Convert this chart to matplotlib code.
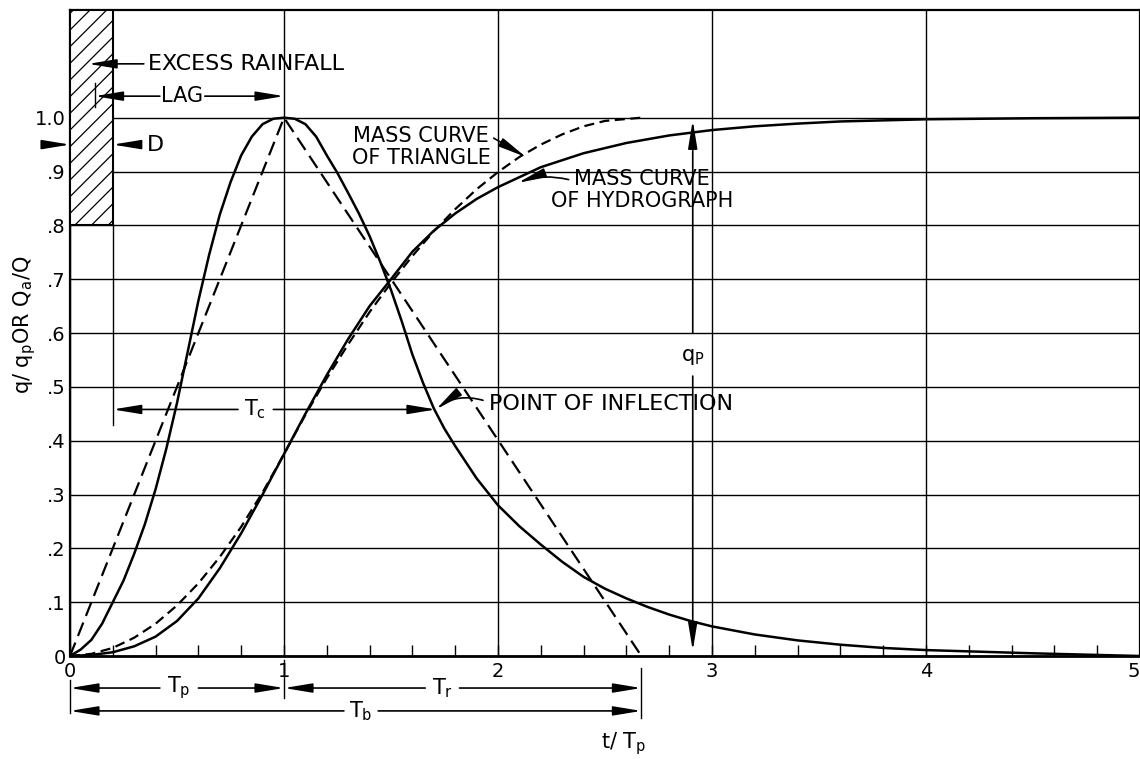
import numpy as np
import matplotlib.pyplot as plt
from matplotlib.patches import Rectangle
from matplotlib.ticker import MultipleLocator

plt.rcParams['font.family'] = 'DejaVu Sans'
plt.rcParams['mathtext.default'] = 'regular'
plt.rcParams['hatch.linewidth'] = 0.9

# dimensionless unit hydrograph
t_hyd = [0, .05, .1, .15, .2, .25, .3, .35, .4, .45, .5, .55, .6, .65, .7, .75, .8, .85, .9,
         .95, 1.0, 1.05, 1.1, 1.15, 1.2, 1.25, 1.3, 1.35, 1.4, 1.45, 1.5, 1.55, 1.6, 1.65,
         1.7, 1.75, 1.8, 1.9, 2.0, 2.1, 2.2, 2.3, 2.4, 2.5, 2.6, 2.7, 2.8, 2.9, 3.0, 3.2,
         3.4, 3.6, 3.8, 4.0, 4.5, 5.0]
q_hyd = [0, .012, .030, .060, .100, .140, .190, .245, .310, .385, .470, .565, .660, .745,
         .820, .880, .930, .965, .988, .998, 1.000, .998, .988, .965, .930, .897, .860, .822,
         .780, .732, .680, .622, .560, .507, .460, .422, .390, .330, .280, .241, .207, .175,
         .147, .125, .107, .091, .077, .065, .055, .040, .029, .021, .015, .011, .005, 0]
t_mass = [0, .1, .2, .3, .4, .5, .6, .7, .8, .9, 1.0, 1.1, 1.2, 1.3, 1.4, 1.5, 1.6, 1.7,
          1.8, 1.9, 2.0, 2.2, 2.4, 2.6, 2.8, 3.0, 3.2, 3.4, 3.6, 3.8, 4.0, 4.5, 5.0]
mass_hyd = [0, .002, .007, .018, .036, .065, .107, .163, .228, .300, .375, .450, .522, .589,
            .650, .700, .751, .790, .822, .849, .871, .908, .934, .953, .967, .977, .984,
            .989, .993, .995, .997, .999, 1.000]

# triangle and its mass curve
t_tri = [0, 1.0, 2.67]
q_tri = [0, 1.0, 0]
t_tri_mass = [0, .1, .2, .3, .4, .5, .6, .7, .8, .9, 1.0, 1.1, 1.2, 1.3, 1.4, 1.5, 1.6,
              1.7, 1.8, 1.9, 2.0, 2.1, 2.2, 2.3, 2.4, 2.5, 2.67]
mass_tri = [0, .004, .015, .034, .060, .094, .135, .184, .240, .304, .375, .448, .516, .579,
            .639, .693, .743, .789, .830, .867, .899, .927, .950, .969, .984, .994, 1.0]

x_ticks = [0, 1, 2, 3, 4, 5]
y_ticks = [0, .1, .2, .3, .4, .5, .6, .7, .8, .9, 1.0]
y_ticklabels = ['0', '.1', '.2', '.3', '.4', '.5', '.6', '.7', '.8', '.9', '1.0']

fig = plt.figure(figsize=(11.4, 7.59), dpi=100)
ax = fig.add_axes([0.0614, 0.1357, 0.9386, 0.8511])

ax.plot(t_hyd, q_hyd, color='k', lw=1.8)
ax.plot(t_mass, mass_hyd, color='k', lw=1.8)
ax.plot(t_tri, q_tri, color='k', lw=1.6, dashes=(6.5, 3.2))
ax.plot(t_tri_mass, mass_tri, color='k', lw=1.6, dashes=(4.5, 2.5))

ax.set_xlim(0, 5)
ax.set_ylim(0, 1.2)
ax.set_xticks(x_ticks)
ax.set_xticklabels([str(v) for v in x_ticks], fontsize=14)
ax.get_xticklabels()[-1].set_horizontalalignment('right')
ax.set_yticks(y_ticks)
ax.set_yticklabels(y_ticklabels, fontsize=14)
ax.xaxis.set_minor_locator(MultipleLocator(0.2))
ax.tick_params(axis='x', which='both', direction='in', length=8, width=1, pad=4)
ax.tick_params(axis='y', length=0, pad=3)
ax.grid(True, color='k', lw=1.0)
for s in ax.spines.values():
    s.set_linewidth(1.6)
ax.spines['bottom'].set_linewidth(2.0)

# excess rainfall block
ax.add_patch(Rectangle((0, 0.8), 0.2, 0.4, facecolor='white', edgecolor='k',
                       hatch='//', lw=1.5, zorder=3))


def arrow(x0, y0, x1, y1, rad=0.0):
    ax.annotate('', xy=(x1, y1), xytext=(x0, y0), annotation_clip=False,
                arrowprops=dict(arrowstyle='-|>,head_length=0.85,head_width=0.14',
                                color='k', lw=1.2, shrinkA=0, shrinkB=0,
                                mutation_scale=20, connectionstyle=f'arc3,rad={rad}'))


fs = 15
ax.text(0.365, 1.10, 'EXCESS RAINFALL', fontsize=16, va='center', zorder=5)
arrow(0.345, 1.10, 0.085, 1.10)

ax.text(0.525, 1.04, 'LAG', fontsize=fs, ha='center', va='center', zorder=5)
arrow(0.42, 1.04, 0.115, 1.04)
arrow(0.63, 1.04, 1.0, 1.04)
ax.plot([0.115, 0.115], [1.02, 1.065], color='k', lw=1.0, zorder=5)

ax.text(0.36, 0.95, 'D', fontsize=fs + 1, va='center')
arrow(-0.13, 0.95, 0.0, 0.95)
arrow(0.30, 0.95, 0.2, 0.95)

ax.plot([0.2, 0.2], [0.8, 0.43], color='k', lw=1.0)
ax.text(0.865, 0.458, 'T$_c$', fontsize=fs, ha='center', va='center')
arrow(0.785, 0.458, 0.2, 0.458)
arrow(0.95, 0.458, 1.71, 0.458)

ax.text(1.96, 0.468, 'POINT OF INFLECTION', fontsize=16, va='center')
arrow(1.93, 0.475, 1.71, 0.458, rad=0.25)

ax.text(1.64, 0.945, 'MASS CURVE\nOF TRIANGLE', fontsize=fs, ha='center', va='center',
        linespacing=1.1)
arrow(1.98, 0.962, 2.13, 0.927)

ax.text(2.674, 0.866, 'MASS CURVE\nOF HYDROGRAPH', fontsize=fs, ha='center', va='center',
        linespacing=1.1)
arrow(2.33, 0.885, 2.093, 0.879, rad=0.15)

# q_p dimension
ax.text(2.91, 0.555, 'q$_P$', fontsize=fs, ha='center', va='center')
arrow(2.91, 0.60, 2.91, 0.995)
arrow(2.91, 0.52, 2.91, 0.01)

# time dimensions below the axis
for x, y0, y1 in [(0, -0.045, -0.106), (1, -0.007, -0.078), (2.67, -0.022, -0.115)]:
    ax.plot([x, x], [y0, y1], color='k', lw=1.0, clip_on=False)

y_tp = -0.0595
ax.text(0.51, y_tp, 'T$_p$', fontsize=fs, ha='center', va='center')
arrow(0.42, y_tp, 0.0, y_tp)
arrow(0.60, y_tp, 1.0, y_tp)
ax.text(1.74, y_tp, 'T$_r$', fontsize=fs, ha='center', va='center')
arrow(1.66, y_tp, 1.0, y_tp)
arrow(1.82, y_tp, 2.67, y_tp)

y_tb = -0.102
ax.text(1.36, y_tb, 'T$_b$', fontsize=fs, ha='center', va='center')
arrow(1.28, y_tb, 0.0, y_tb)
arrow(1.44, y_tb, 2.67, y_tb)

ax.text(2.586, -0.162, 't/ T$_p$', fontsize=fs, ha='center', va='center')
ax.text(-0.042, 0.512, 'q/ q$_p$OR Q$_a$/Q', fontsize=fs, ha='center', va='center',
        rotation=90, transform=ax.transAxes)

fig.savefig('out.png', dpi=100)
